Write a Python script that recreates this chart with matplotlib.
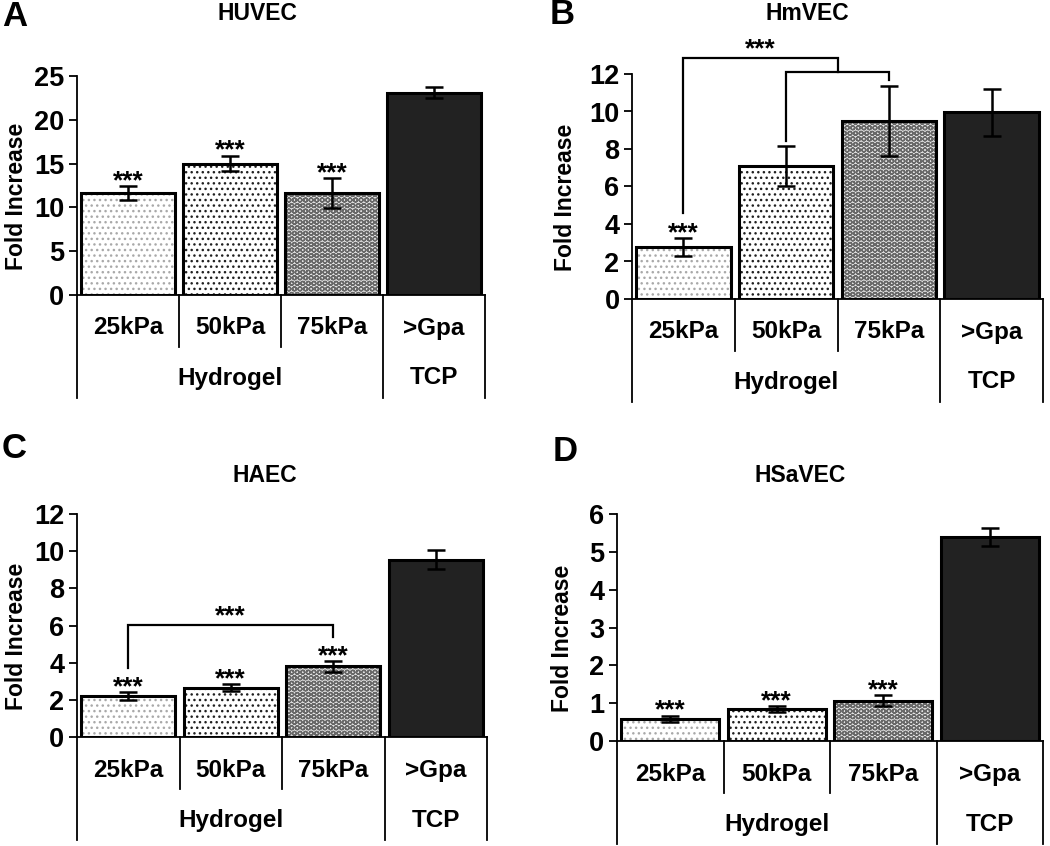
import matplotlib
matplotlib.use("Agg")
import matplotlib.pyplot as plt
import numpy as np

plt.rcParams['font.family'] = ['Liberation Sans', 'DejaVu Sans']
plt.rcParams['hatch.linewidth'] = 1.0

# ---------------- data ----------------
categories = ["25kPa", "50kPa", "75kPa", ">Gpa"]
groups = ["Hydrogel", "TCP"]

huvec_vals = [11.6, 15.0, 11.6, 23.1]
huvec_errs = [0.8, 0.9, 1.7, 0.65]
huvec_stars = [True, True, True, False]

hmvec_vals = [2.75, 7.1, 9.5, 9.95]
hmvec_errs = [0.48, 1.05, 1.85, 1.25]
hmvec_stars = [True, False, False, False]

haec_vals = [2.2, 2.65, 3.8, 9.55]
haec_errs = [0.2, 0.2, 0.28, 0.5]
haec_stars = [True, True, True, False]

hsavec_vals = [0.58, 0.85, 1.07, 5.4]
hsavec_errs = [0.09, 0.08, 0.14, 0.24]
hsavec_stars = [True, True, True, False]

# brackets: (x_start, x_end, y_start, y_top, y_end)
hmvec_brackets = [(0, 1.5, 4.6, 12.85, 12.12), (1, 2, 8.4, 12.12, 11.68)]
hmvec_bracket_star = (0.75, 13.3)
haec_brackets = [(0, 2, 3.7, 6.05, 5.4)]
haec_bracket_star = (1.0, 6.5)

# ---------------- styles ----------------
face = ['white', 'white', '#e2e2e2', '#222222']
hatches = ['...', '...', 'OOO', None]
hatch_cols = ['#a9a9a9', '#202020', '#686868', None]

W, H = 1050, 846
fig = plt.figure(figsize=(W / 100, H / 100), dpi=100)


def add_ax(left, right, top, bottom):
    return fig.add_axes([left / W, (H - bottom) / H, (right - left) / W, (bottom - top) / H])


def panel(ax, vals, errs, stars, ymax, ystep, title, title_xy, letter, letter_xy,
          ylabel_right, brackets=None, bstar=None):
    x = np.arange(len(categories))
    ax.set_xlim(-0.5, 3.5)
    ax.set_ylim(0, ymax)
    w_px = ax.get_position().width * W
    for i in range(len(vals)):
        if hatches[i]:
            ax.bar(x[i], vals[i], width=0.92, color=face[i], edgecolor=hatch_cols[i],
                   hatch=hatches[i], linewidth=0, zorder=2)
            ax.bar(x[i], vals[i], width=0.92, color='none', edgecolor='black',
                   linewidth=2.2, zorder=3)
        else:
            ax.bar(x[i], vals[i], width=0.92, color=face[i], edgecolor='black',
                   linewidth=2.2, zorder=3)
    ax.errorbar(x, vals, yerr=errs, fmt='none', ecolor='black', elinewidth=1.8,
                capsize=6.5, capthick=1.8, zorder=4, clip_on=False)
    for i, s in enumerate(stars):
        if s:
            ax.annotate("***", xy=(x[i], vals[i] + errs[i]), xytext=(0, -1.5),
                        textcoords='offset points', ha='center', va='baseline',
                        fontsize=19, fontweight='bold', annotation_clip=False)
    if brackets:
        for (x0, x1, y0, yt, y1) in brackets:
            ax.plot([x0, x0, x1, x1], [y0, yt, yt, y1], color='black', lw=1.6,
                    clip_on=False, zorder=5, solid_joinstyle='miter')
    if bstar:
        ax.text(bstar[0], bstar[1], "***", ha='center', va='center', fontsize=19,
                fontweight='bold')

    for sp in ['top', 'right']:
        ax.spines[sp].set_visible(False)
    ax.spines['left'].set_linewidth(1.3)
    ax.spines['bottom'].set_linewidth(1.3)
    ticks = np.arange(0, ymax + 0.01, ystep)
    ax.set_yticks(ticks)
    ax.set_yticklabels([f"{v:g}" for v in ticks], fontsize=19.5, fontweight='bold')
    ax.tick_params(axis='y', length=6, width=1.3, pad=3)
    ax.set_xticks([])
    ax.patch.set_visible(False)

    # category table below axis
    h_px = ax.get_position().height * H
    tr = ax.get_xaxis_transform()
    short = -52 / h_px
    long_ = -103 / h_px
    for xs, yl in [(-0.5, long_), (0.5, short), (1.5, short), (2.5, long_), (3.5, long_)]:
        ax.plot([xs, xs], [0, yl], transform=tr, color='black', lw=1.3, clip_on=False)
    for i, c in enumerate(categories):
        ax.text(x[i], -33 / h_px, c, transform=tr, ha='center', va='center',
                fontsize=17.5, fontweight='bold')
    ax.text(1.0, -83 / h_px, groups[0], transform=tr, ha='center', va='center',
            fontsize=17.5, fontweight='bold')
    ax.text(3.0, -83 / h_px, groups[1], transform=tr, ha='center', va='center',
            fontsize=17.5, fontweight='bold')

    ax.set_ylabel("Fold Increase", fontsize=16.5, fontweight='bold')
    ax.yaxis.set_label_coords(ylabel_right / w_px, 0.45)

    fig.text(title_xy[0] / W, 1 - title_xy[1] / H, title, ha='center', va='center',
             fontsize=16.5, fontweight='bold')
    fig.text(letter_xy[0] / W, 1 - letter_xy[1] / H, letter, ha='left', va='center',
             fontsize=25, fontweight='bold')


axA = add_ax(77, 485, 76, 295)
panel(axA, huvec_vals, huvec_errs, huvec_stars, 25, 5, "HUVEC", (257, 13), "A", (2, 17), -49)

axB = add_ax(632, 1043, 74, 299)
panel(axB, hmvec_vals, hmvec_errs, hmvec_stars, 12, 2, "HmVEC", (807, 14), "B", (550, 15),
      -55, hmvec_brackets, hmvec_bracket_star)

axC = add_ax(77, 487, 514, 737)
panel(axC, haec_vals, haec_errs, haec_stars, 12, 2, "HAEC", (265, 475), "C", (2, 448),
      -49, haec_brackets, haec_bracket_star)

axD = add_ax(617, 1043, 514, 741)
panel(axD, hsavec_vals, hsavec_errs, hsavec_stars, 6, 1, "HSaVEC", (800, 475), "D", (553, 451),
      -43)

fig.savefig("out.png", dpi=100, facecolor='white')
